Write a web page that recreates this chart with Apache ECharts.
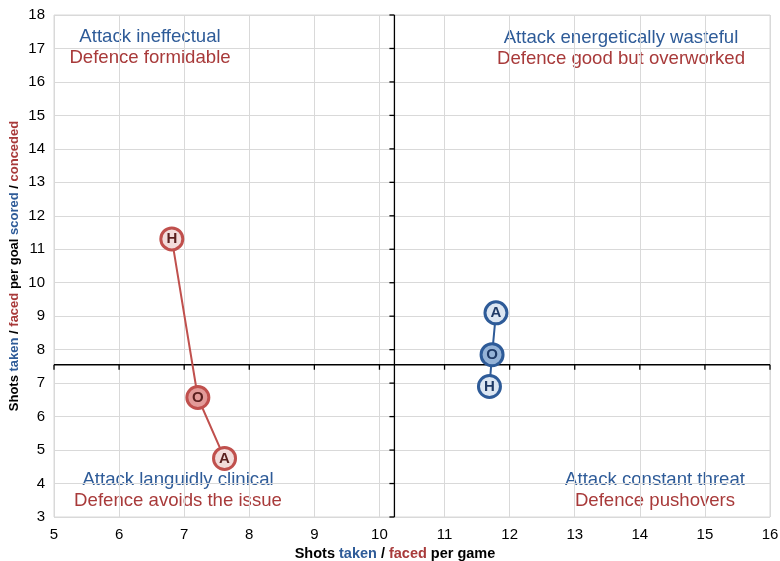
<!DOCTYPE html>
<html><head><meta charset="utf-8">
<script src="https://cdn.jsdelivr.net/npm/echarts@6/dist/echarts.min.js"></script>
<style>html,body{margin:0;padding:0;background:#fff}#c{width:780px;height:561px}</style>
</head><body><div id="c"></div>
<script>
// ---- data ----
const pointLabels = ['H', 'O', 'A'];
const defenceX = [6.81, 7.21, 7.62];   // shots faced per game
const defenceY = [11.31, 6.57, 4.75];  // shots faced per goal conceded
const attackX = [11.69, 11.73, 11.79]; // shots taken per game
const attackY = [6.90, 7.85, 9.10];    // shots taken per goal scored
const dividerX = 10.23;
const dividerY = 7.55;
const xTicks = [5, 6, 7, 8, 9, 10, 11, 12, 13, 14, 15, 16];
const yTicks = [3, 4, 5, 6, 7, 8, 9, 10, 11, 12, 13, 14, 15, 16, 17, 18];
const quadrantText = [
  ['Attack ineffectual', 'Defence formidable'],
  ['Attack energetically wasteful', 'Defence good but overworked'],
  ['Attack languidly clinical', 'Defence avoids the issue'],
  ['Attack constant threat', 'Defence pushovers']
];

const BLUE = '#2e5b98', RED = '#a83a3a';
const FONT = '"Liberation Sans", Arial, sans-serif';

function mkData(xs, ys, fill, fillO) {
  return xs.map((x, i) => ({
    value: [x, ys[i]], name: pointLabels[i],
    itemStyle: { color: pointLabels[i] === 'O' ? fillO : fill }
  }));
}

function richName(size) {
  return {
    k: { color: '#000', fontWeight: 'bold', fontSize: size, fontFamily: FONT },
    b: { color: BLUE, fontWeight: 'bold', fontSize: size, fontFamily: FONT },
    r: { color: RED, fontWeight: 'bold', fontSize: size, fontFamily: FONT }
  };
}

const chart = echarts.init(document.getElementById('c'));
chart.setOption({
  animation: false,
  textStyle: { fontFamily: FONT },
  grid: { left: 54, right: 10, top: 15, bottom: 44, show: true, borderColor: '#d9d9d9', borderWidth: 1,
          containLabel: false, outerBoundsMode: 'none' },
  xAxis: {
    type: 'value', min: 5, max: 16, interval: 1,
    axisLine: { show: false }, axisTick: { show: false },
    splitLine: { lineStyle: { color: '#d9d9d9', width: 1 } },
    axisLabel: { color: '#000', fontSize: 15, margin: 10, fontFamily: FONT },
    name: '{k|Shots }{b|taken}{k| / }{r|faced}{k| per game}',
    nameLocation: 'middle', nameGap: 28,
    nameTextStyle: { padding: [0, 34, 0, 0], rich: richName(14.5) }
  },
  yAxis: {
    type: 'value', min: 3, max: 18, interval: 1,
    axisLine: { show: false }, axisTick: { show: false },
    splitLine: { lineStyle: { color: '#d9d9d9', width: 1 } },
    axisLabel: { color: '#000', fontSize: 15, margin: 9, fontFamily: FONT },
    name: '{k|Shots }{b|taken}{k| / }{r|faced}{k| per goal }{b|scored}{k| / }{r|conceded}',
    nameLocation: 'middle', nameGap: 33, nameMoveOverlap: false,
    nameTextStyle: { rich: richName(13) }
  },
  series: [
    {
      type: 'custom', silent: true, z: 1,
      data: [[dividerX, dividerY]],
      renderItem: function (params, api) {
        const children = [];
        const top = api.coord([dividerX, 18]);
        const bot = api.coord([dividerX, 3]);
        const left = api.coord([5, dividerY]);
        const right = api.coord([16, dividerY]);
        const st = { stroke: '#000', lineWidth: 1.3 };
        children.push({ type: 'line', shape: { x1: top[0], y1: top[1], x2: bot[0], y2: bot[1] }, style: st });
        children.push({ type: 'line', shape: { x1: left[0], y1: left[1], x2: right[0], y2: right[1] }, style: st });
        yTicks.forEach(v => {
          const p = api.coord([dividerX, v]);
          children.push({ type: 'line', shape: { x1: p[0] - 5, y1: p[1], x2: p[0], y2: p[1] }, style: st });
        });
        xTicks.forEach(v => {
          const p = api.coord([v, dividerY]);
          children.push({ type: 'line', shape: { x1: p[0], y1: p[1], x2: p[0], y2: p[1] + 5 }, style: st });
        });
        return { type: 'group', children: children };
      }
    },
    {
      type: 'line', name: 'Defence', z: 3,
      data: mkData(defenceX, defenceY, '#f2dcdb', '#e39b99'),
      symbol: 'circle', symbolSize: 22,
      lineStyle: { color: '#c0504d', width: 2 },
      itemStyle: { borderColor: '#c0504d', borderWidth: 3 },
      label: { show: true, position: 'inside', formatter: p => p.name, color: '#5a1f1e', fontWeight: 'bold', fontSize: 15, fontFamily: FONT }
    },
    {
      type: 'line', name: 'Attack', z: 3,
      data: mkData(attackX, attackY, '#dce6f2', '#95b3d7'),
      symbol: 'circle', symbolSize: 22,
      lineStyle: { color: '#2e5b98', width: 2 },
      itemStyle: { borderColor: '#2e5b98', borderWidth: 3 },
      label: { show: true, position: 'inside', formatter: p => p.name, color: '#1f3a66', fontWeight: 'bold', fontSize: 15, fontFamily: FONT }
    }
  ],
  graphic: [
    [150, 37], [621, 38], [178, 480], [655, 480]
  ].map((pos, i) => ({
    type: 'group', x: pos[0], y: pos[1], silent: true, z: 10,
    children: [
      { type: 'text', x: 0, y: 0, style: { text: quadrantText[i][0], fill: BLUE, font: '18.6px ' + FONT, textAlign: 'center', textVerticalAlign: 'middle' } },
      { type: 'text', x: 0, y: 21, style: { text: quadrantText[i][1], fill: RED, font: '18.6px ' + FONT, textAlign: 'center', textVerticalAlign: 'middle' } }
    ]
  }))
});
</script></body></html>
